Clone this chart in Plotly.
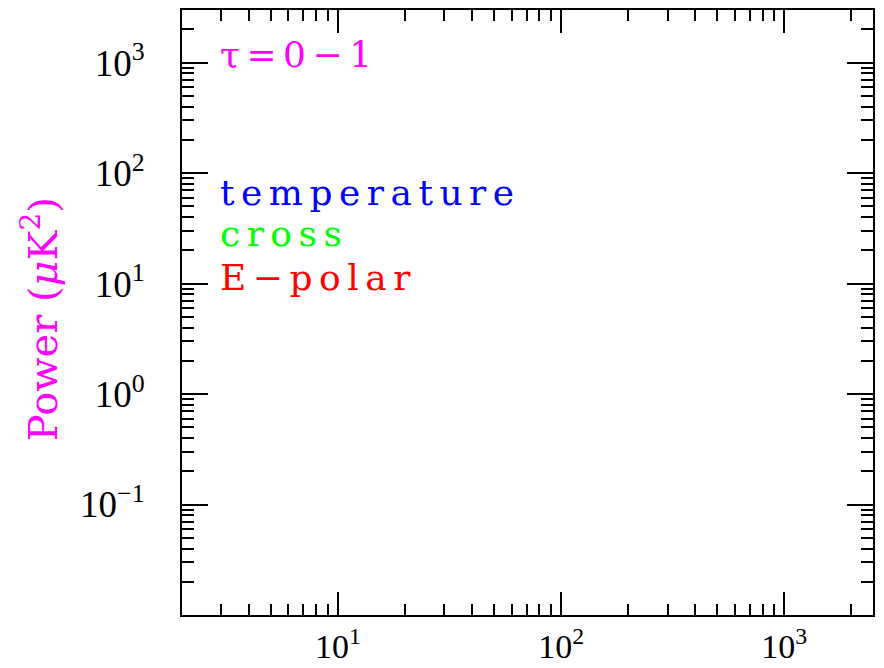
import math
import plotly.graph_objects as go

# Axis extents (data units) for the multipole / power log-log frame
x_range = [2, 2500]
y_range = [0.01, 3000]

# Major tick positions and their labels
x_tick_vals = [10, 100, 1000]
x_tick_text = ["10<sup>1</sup>", "10<sup>2</sup>", "10<sup>3</sup>"]
y_tick_vals = [0.1, 1, 10, 100, 1000]
y_tick_text = ["10<sup>\u22121</sup>", "10<sup>0</sup>", "10<sup>1</sup>",
               "10<sup>2</sup>", "10<sup>3</sup>"]

# Minor ticks: 2..9 within every decade
x_minor_vals = [m * 10 ** k for k in range(0, 4) for m in range(2, 10)]
y_minor_vals = [m * 10.0 ** k for k in range(-2, 4) for m in range(2, 10)]

# Key labels written inside the frame
labels = ["\u03c4=0\u22121", "temperature", "cross", "E\u2212polar"]
label_colors = ["#FF00FF", "#0000FF", "#00FF00", "#FF0000"]
label_y = [0.926, 0.699, 0.631, 0.558]

y_title = "Power (<i>\u03bc</i>K<sup>2</sup>)"

fig = go.Figure()

axis_common = dict(
    type="log",
    automargin=False,
    showgrid=False,
    zeroline=False,
    showline=True,
    linecolor="black",
    linewidth=2,
    mirror="allticks",
    ticks="inside",
    tickcolor="black",
    tickwidth=1.6,
    tickmode="array",
)

fig.update_xaxes(
    **axis_common,
    range=[math.log10(x_range[0]), math.log10(x_range[1])],
    tickvals=x_tick_vals,
    ticktext=x_tick_text,
    tickfont=dict(family="Liberation Serif", size=34, color="black"),
    ticklen=23,
    ticklabelstandoff=0,
    minor=dict(ticks="inside", ticklen=11, tickwidth=1.6, tickcolor="black",
               tickmode="array", tickvals=x_minor_vals, showgrid=False),
)
fig.update_yaxes(
    **axis_common,
    range=[math.log10(y_range[0]), math.log10(y_range[1])],
    tickvals=y_tick_vals,
    ticktext=y_tick_text,
    tickfont=dict(family="Liberation Serif", size=37, color="black"),
    ticklen=26,
    ticklabelstandoff=28,
    minor=dict(ticks="inside", ticklen=12, tickwidth=1.6, tickcolor="black",
               tickmode="array", tickvals=y_minor_vals, showgrid=False),
)

for text, color, yy in zip(labels, label_colors, label_y):
    fig.add_annotation(
        text=text, xref="paper", yref="paper", x=0.052, y=yy,
        xanchor="left", yanchor="middle", align="left", showarrow=False,
        font=dict(family="DejaVu Serif", size=36, color=color),
    )

fig.add_annotation(
    text=y_title, xref="paper", yref="paper", x=-0.2055, y=0.489,
    xanchor="center", yanchor="middle", textangle=-90, showarrow=False,
    font=dict(family="DejaVu Serif", size=40, color="#FF00FF"),
)

fig.update_layout(
    width=884,
    height=668,
    margin=dict(l=182, r=11, t=10, b=53, autoexpand=False),
    paper_bgcolor="white",
    plot_bgcolor="white",
    showlegend=False,
)

# Widen the letter spacing of the in-frame key labels
spacing_js = """
var gd = document.getElementById('{plot_id}');
gd.querySelectorAll('.annotation-text').forEach(function (t) {
    if (t.textContent.indexOf('Power') === -1) { t.style.letterSpacing = '6.5px'; }
});
"""

fig.write_html("out.html", post_script=spacing_js)
